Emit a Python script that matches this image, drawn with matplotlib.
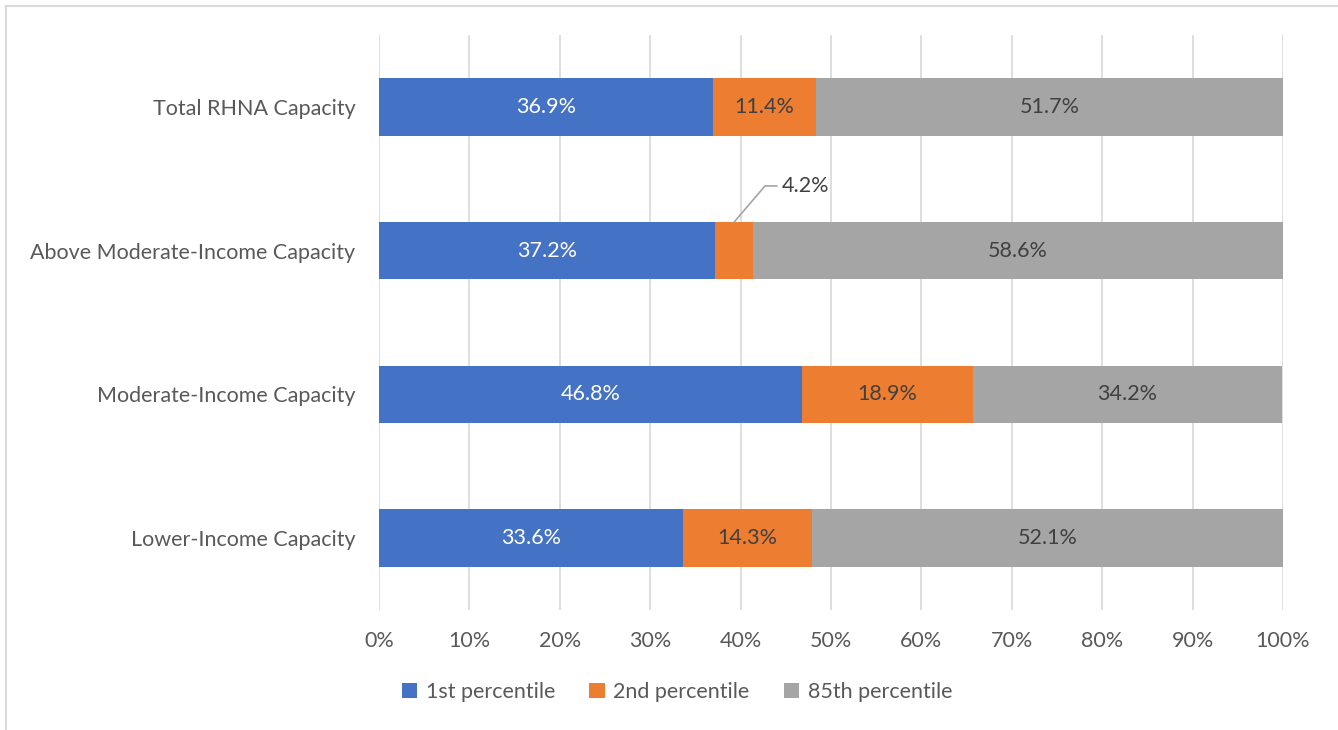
import numpy as np
import matplotlib.pyplot as plt
from matplotlib.lines import Line2D

plt.rcParams['font.family'] = ['Lato', 'DejaVu Sans']

categories = ['Lower-Income Capacity', 'Moderate-Income Capacity',
              'Above Moderate-Income Capacity', 'Total RHNA Capacity']
series_names = ['1st percentile', '2nd percentile', '85th percentile']
p1 = [33.6, 46.8, 37.2, 36.9]
p2 = [14.3, 18.9, 4.2, 11.4]
p85 = [52.1, 34.2, 58.6, 51.7]
xticks = [0, 10, 20, 30, 40, 50, 60, 70, 80, 90, 100]

colors = ['#4472C4', '#ED7D31', '#A5A5A5']
label_colors = ['white', '#404040', '#404040']
txt = '#595959'
fs = 15.5

fig = plt.figure(figsize=(13.38, 7.30), dpi=100)
ax = fig.add_axes([379/1338, 1-610/730, (1283-379)/1338, (610-35)/730])

y = np.arange(len(categories))
left = np.zeros(len(categories))
for vals, name, c, lc in zip([p1, p2, p85], series_names, colors, label_colors):
    vals = np.array(vals)
    ax.barh(y, vals, left=left, height=0.4, color=c, label=name, zorder=3)
    for yi, v, l in zip(y, vals, left):
        if v < 6:
            continue
        ax.text(l + v / 2, yi, f'{v:.1f}%', ha='center', va='center',
                color=lc, fontsize=fs, zorder=4)
    left += vals

# small 2nd-percentile label with leader line
i = 2
xm = p1[i] + p2[i] / 2
ax.plot([xm, 42.7, 44.0], [y[i] + 0.2, y[i] + 0.45, y[i] + 0.45],
        color='#A5A5A5', lw=1.2, zorder=4, clip_on=False)
ax.text(44.6, y[i] + 0.45, f'{p2[i]:.1f}%', ha='left', va='center',
        color='#404040', fontsize=fs)

ax.set_xlim(0, 100)
ax.set_ylim(-0.5, len(categories) - 0.5)
ax.set_xticks(xticks)
ax.set_xticklabels([f'{t}%' for t in xticks])
ax.set_yticks(y)
ax.set_yticklabels(categories)
ax.tick_params(axis='x', length=0, pad=15, labelsize=fs, labelcolor=txt)
ax.tick_params(axis='y', length=0, pad=17, labelsize=fs, labelcolor=txt)
ax.grid(axis='x', color='#D9D9D9', lw=1.2, zorder=0)
ax.set_axisbelow(True)
for s in ax.spines.values():
    s.set_visible(False)

leg = fig.legend(loc='center', bbox_to_anchor=(677/1338, 1-692/730), ncol=3,
                 frameon=False, fontsize=fs, handlelength=0.7, handleheight=0.7,
                 handletextpad=0.4, columnspacing=1.6)
for t in leg.get_texts():
    t.set_color(txt)

# chart border (top and left visible)
fig.add_artist(Line2D([6/1338, 1], [1-6/730, 1-6/730], color='#D9D9D9', lw=1.5))
fig.add_artist(Line2D([6/1338, 6/1338], [0, 1-6/730], color='#D9D9D9', lw=1.5))

fig.savefig('out.png', dpi=100)
